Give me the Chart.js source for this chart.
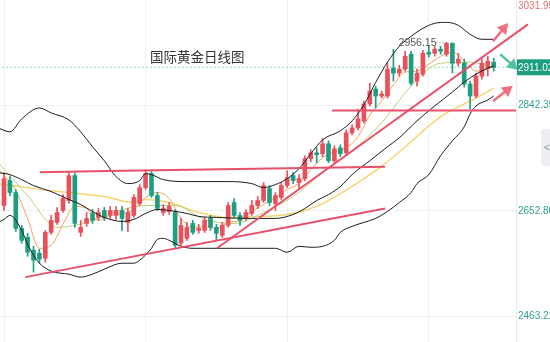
<!DOCTYPE html>
<html>
<head>
<meta charset="utf-8">
<title>国际黄金日线图</title>
<script src="https://cdn.jsdelivr.net/npm/chart.js@4.4.1/dist/chart.umd.min.js"></script>
<style>
    html, body { margin: 0; padding: 0; background: #fff; }
    #wrap { width: 550px; height: 342px; }
</style>
</head>
<body>
<div id="wrap"><canvas id="goldChart" width="550" height="342"></canvas></div>
<script>
// Daily candles (index = trading day on screen)
const openPrices = [
    2662.6, 2707.4, 2685.9, 2621.5, 2605.4, 2582.2, 2576.8, 2567.8, 2614.3, 2632.2,
    2653.7, 2671.6, 2716.3, 2614.3, 2630.4, 2648.3, 2641.2, 2653.7, 2644.8, 2644.8,
    2653.7, 2632.2, 2644.8, 2666.2, 2694.8, 2719.9, 2680.5, 2650.1, 2651.9, 2650.1,
    2594.7, 2603.6, 2630.4, 2617.9, 2617.9, 2639.4, 2623.3, 2609.0, 2626.9, 2668.0,
    2644.8, 2639.4, 2648.3, 2662.6, 2671.6, 2693.0, 2666.2, 2677.0, 2698.4, 2716.3,
    2703.8, 2710.9, 2746.7, 2757.4, 2755.6, 2773.5, 2743.1, 2766.4, 2757.4, 2793.2,
    2802.1, 2814.7, 2845.1, 2871.9, 2859.4, 2859.4, 2909.5, 2900.5, 2907.7, 2934.5,
    2886.2, 2898.7, 2938.1, 2936.3, 2943.4, 2934.5, 2954.2, 2918.4, 2918.4, 2880.8,
    2859.4, 2895.2, 2909.5, 2920.2
];
const closePrices = [
    2710.9, 2685.9, 2621.5, 2600.0, 2578.6, 2564.3, 2566.1, 2614.3, 2635.8, 2650.1,
    2675.2, 2716.3, 2630.4, 2623.3, 2639.4, 2635.8, 2650.1, 2641.2, 2653.7, 2653.7,
    2639.4, 2650.1, 2677.0, 2694.8, 2719.9, 2680.5, 2657.3, 2657.3, 2660.9, 2591.1,
    2626.9, 2623.3, 2614.3, 2621.5, 2635.8, 2623.3, 2612.6, 2626.9, 2662.6, 2644.8,
    2635.8, 2650.1, 2662.6, 2671.6, 2698.4, 2668.0, 2680.5, 2698.4, 2712.7, 2707.4,
    2710.9, 2746.7, 2757.4, 2753.9, 2773.5, 2743.1, 2764.6, 2755.6, 2793.2, 2802.1,
    2818.2, 2845.1, 2868.3, 2859.4, 2863.0, 2907.7, 2900.5, 2907.7, 2930.9, 2882.6,
    2900.5, 2936.3, 2934.5, 2943.4, 2939.9, 2954.2, 2918.4, 2925.6, 2880.8, 2859.4,
    2895.2, 2918.4, 2922.0, 2911.02
];
const highPrices = [
    2721.7, 2714.5, 2691.3, 2626.9, 2612.6, 2589.3, 2583.9, 2617.9, 2644.8, 2659.1,
    2682.3, 2721.7, 2721.7, 2635.8, 2650.1, 2655.5, 2657.3, 2659.1, 2660.9, 2660.9,
    2660.9, 2657.3, 2682.3, 2700.2, 2727.0, 2723.5, 2685.9, 2664.4, 2668.0, 2655.5,
    2639.4, 2632.2, 2635.8, 2628.7, 2641.2, 2644.8, 2628.7, 2632.2, 2668.0, 2675.2,
    2650.1, 2655.5, 2671.6, 2678.7, 2703.8, 2698.4, 2685.9, 2703.8, 2725.2, 2721.7,
    2718.1, 2752.1, 2762.8, 2766.4, 2782.5, 2778.9, 2770.0, 2771.7, 2798.6, 2807.5,
    2836.1, 2850.4, 2882.6, 2877.3, 2868.3, 2918.4, 2943.4, 2914.8, 2939.9, 2939.9,
    2907.7, 2941.7, 2950.6, 2948.8, 2948.8, 2956.15, 2955.0, 2936.3, 2925.6, 2886.2,
    2900.5, 2925.6, 2930.9, 2927.4
];
const lowPrices = [
    2653.7, 2680.5, 2616.1, 2594.7, 2571.4, 2542.8, 2558.9, 2560.7, 2610.8, 2628.7,
    2650.1, 2666.2, 2623.3, 2607.2, 2625.1, 2630.4, 2635.8, 2635.8, 2639.4, 2637.6,
    2617.9, 2616.1, 2641.2, 2662.6, 2691.3, 2677.0, 2653.7, 2644.8, 2646.5, 2587.5,
    2591.1, 2600.0, 2610.8, 2612.6, 2614.3, 2617.9, 2600.0, 2605.4, 2623.3, 2641.2,
    2626.9, 2635.8, 2644.8, 2657.3, 2668.0, 2662.6, 2653.7, 2673.4, 2694.8, 2702.0,
    2693.0, 2707.4, 2741.3, 2739.6, 2750.3, 2739.6, 2737.8, 2750.3, 2753.9, 2789.6,
    2798.6, 2811.1, 2841.5, 2837.9, 2855.8, 2855.8, 2886.2, 2895.2, 2904.1, 2879.1,
    2877.3, 2895.2, 2929.1, 2930.9, 2934.5, 2930.9, 2900.5, 2913.0, 2875.5, 2836.1,
    2855.8, 2889.8, 2895.2, 2904.1
];

// Bollinger bands, read at key days
const upperX = [-1, 1, 3, 6, 8, 11, 13, 15, 17, 19, 21, 23, 24, 25, 27, 31, 38, 42, 44, 46,
    48, 50, 52, 54, 57, 59, 61, 63, 65, 67, 69, 71, 73, 75, 77, 79, 81, 83];
const upperY = [2802.1, 2795.0, 2818.2, 2837.9, 2829.0, 2816.5, 2795.0, 2768.2, 2743.1, 2714.5,
    2702.0, 2707.4, 2719.9, 2718.1, 2709.1, 2705.6, 2705.6, 2702.0, 2694.8, 2700.2,
    2710.9, 2728.8, 2755.6, 2780.7, 2796.8, 2814.7, 2843.3, 2884.0, 2920.2, 2948.8,
    2966.7, 2981.0, 2990.0, 2991.7, 2986.4, 2970.3, 2961.3, 2961.3];
const middleX = [-1, 1, 3, 5, 8, 11, 13, 15, 17, 20, 22, 24, 26, 28, 31, 33, 36, 42, 46, 49,
    51, 53, 55, 57, 59, 62, 65, 67, 70, 73, 76, 78, 80, 82, 83];
const middleY = [2721.7, 2718.1, 2709.1, 2698.4, 2687.7, 2673.4, 2664.4, 2651.9, 2641.2, 2634.0,
    2637.6, 2648.3, 2655.5, 2653.7, 2648.3, 2643.0, 2641.2, 2639.4, 2639.4, 2646.5,
    2657.3, 2671.6, 2682.3, 2696.6, 2718.1, 2743.1, 2768.2, 2784.3, 2814.7, 2841.5,
    2866.5, 2884.4, 2898.7, 2909.5, 2913.0];
const lowerX = [-1, 0, 1, 3, 4, 5, 6, 8, 11, 13, 15, 17, 20, 22, 23, 25, 26, 27, 28, 30,
    32, 42, 46, 48, 50, 52, 54, 56, 57, 59, 61, 63, 65, 67, 69, 70, 72, 74, 76, 78,
    79, 80, 82, 83];
const lowerY = [2632.2, 2637.6, 2644.8, 2617.9, 2592.9, 2573.2, 2558.9, 2544.6, 2539.2, 2533.9,
    2539.2, 2548.2, 2558.9, 2558.9, 2564.3, 2585.7, 2601.8, 2603.6, 2600.0, 2589.3,
    2585.7, 2585.7, 2585.7, 2578.6, 2589.3, 2587.5, 2589.3, 2600.0, 2614.3, 2625.1,
    2632.2, 2639.4, 2651.9, 2668.0, 2685.9, 2702.0, 2718.1, 2752.1, 2778.9, 2803.9,
    2827.2, 2841.5, 2852.2, 2859.4];

// Moving averages
const ma5X = [-1, 2, 4, 6, 8, 10, 12, 14, 16, 18, 20, 22, 24, 26, 28, 30, 32, 34, 36, 38,
    40, 42, 44, 46, 48, 50, 52, 54, 56, 58, 60, 62, 64, 66, 68, 70, 72, 74, 76, 78,
    80, 82, 83];
const ma5Y = [2728.8, 2689.5, 2639.4, 2585.7, 2591.1, 2628.7, 2660.9, 2657.3, 2635.8, 2644.8,
    2648.3, 2655.5, 2677.0, 2685.9, 2675.2, 2639.4, 2623.3, 2625.1, 2621.5, 2632.2,
    2635.8, 2651.9, 2664.4, 2677.0, 2691.3, 2702.0, 2727.0, 2748.5, 2759.2, 2766.4,
    2786.1, 2825.4, 2850.4, 2879.1, 2902.3, 2904.1, 2916.6, 2930.9, 2938.1, 2923.8,
    2904.1, 2907.7, 2913.0];
const ma10X = [-1, 4, 9, 14, 19, 24, 29, 34, 39, 44, 49, 54, 59, 64, 69, 74, 79, 83];
const ma10Y = [2739.6, 2680.5, 2623.3, 2632.2, 2651.9, 2662.6, 2662.6, 2637.6, 2630.4, 2650.1,
    2678.7, 2721.7, 2761.0, 2811.1, 2877.3, 2918.4, 2920.2, 2911.3];
const ma30X = [-1, 5, 11, 17, 22, 24, 28, 33, 38, 44, 48, 51, 54, 57, 60, 63, 66, 69, 72, 75,
    78, 80, 83];
const ma30Y = [2702.0, 2693.0, 2685.9, 2678.7, 2668.0, 2673.4, 2668.0, 2650.1, 2641.2, 2643.0,
    2646.5, 2653.7, 2666.2, 2684.1, 2703.8, 2725.2, 2750.3, 2777.1, 2805.7, 2829.0,
    2845.1, 2855.8, 2873.7];

// Hand drawn trend lines (two end points each)
const resistX = [6.1, 64.6],   resistY = [2722.6, 2732.4];
const supportX = [55.6, 86.8], supportY = [2833.5, 2833.5];
const lowTrendX = [3.6, 64.6], lowTrendY = [2533.9, 2657.3];
const riseTrendX = [36.1, 88.8], riseTrendY = [2585.7, 2988.2];

// Arrows (tail, head)
const arrowUpX = [82.9, 84.7],   arrowUpY = [2957.8, 2981.0];
const arrowDownX = [84.1, 86.2], arrowDownY = [2934.5, 2914.8];
const arrowLowX = [82.9, 85.3],  arrowLowY = [2850.4, 2870.1];

// Axis
const yTicks = [2463.21, 2652.80, 2842.39];
const topTick = 3031.95;
const gridDays = [0, 24, 48, 72];
const lastPrice = 2911.02;
const chartTitle = '国际黄金日线图';

const UP = '#ea4f5c';
const DOWN = '#1e9e80';

function toPoints(xs, ys) {
    return xs.map((x, k) => ({ x: x, y: ys[k] }));
}

function lineSet(xs, ys, color, width, order) {
    return {
        type: 'line',
        data: toPoints(xs, ys),
        borderColor: color,
        borderWidth: width,
        pointRadius: 0,
        cubicInterpolationMode: 'monotone',
        order: order
    };
}

function arrowSet(xs, ys, color, angle) {
    return {
        type: 'line',
        data: toPoints(xs, ys),
        borderColor: color,
        borderWidth: 2.5,
        pointStyle: 'triangle',
        pointRadius: [0, 4.5],
        pointRotation: [0, angle],
        pointBackgroundColor: color,
        pointBorderColor: color,
        clip: false,
        order: 0
    };
}

// scales must not reserve room for labels or offsets
function noPadding(s) {
    s.paddingLeft = 0;
    s.paddingRight = 0;
    s.paddingTop = 0;
    s.paddingBottom = 0;
}

const candleColors = closePrices.map((c, i) => c >= openPrices[i] ? UP : DOWN);

const wickData = lowPrices.map((l, i) => ({ x: i, y: [l, highPrices[i]] }));
const bodyData = openPrices.map((o, i) => ({ x: i, y: [o, closePrices[i]] }));

// Texts drawn on top of the plot
const overlayPlugin = {
    id: 'overlay',
    afterDraw(chart) {
        const ctx = chart.ctx;
        const xs = chart.scales.x;
        const ys = chart.scales.y;
        const area = chart.chartArea;
        ctx.save();

        // title
        ctx.font = "13.5px 'Noto Sans CJK SC'";
        ctx.fillStyle = '#333';
        ctx.textBaseline = 'middle';
        ctx.textAlign = 'left';
        ctx.fillText(chartTitle, area.left + 150, area.top + 57);

        // highest price marker
        let hi = 0;
        highPrices.forEach((h, i) => { if (h > highPrices[hi]) hi = i; });
        const hx = xs.getPixelForValue(hi);
        const hy = ys.getPixelForValue(highPrices[hi]);
        ctx.strokeStyle = '#888';
        ctx.lineWidth = 1;
        ctx.setLineDash([1, 2]);
        ctx.beginPath();
        ctx.moveTo(hx - 10, hy + 0.5);
        ctx.lineTo(hx - 1, hy + 0.5);
        ctx.stroke();
        ctx.setLineDash([]);
        ctx.font = '10.5px Arial';
        ctx.fillStyle = '#555';
        ctx.textAlign = 'right';
        ctx.fillText(highPrices[hi].toFixed(2), hx - 10, hy + 1);

        // current price tag on the axis
        const py = ys.getPixelForValue(lastPrice);
        ctx.fillStyle = DOWN;
        ctx.fillRect(area.right + 1, py - 8, 40, 16);
        ctx.fillStyle = '#fff';
        ctx.textAlign = 'left';
        ctx.font = '10px Arial';
        ctx.fillText(lastPrice.toFixed(2), area.right + 2, py + 0.5);

        // top tick label
        ctx.fillStyle = '#e57373';
        ctx.fillText(topTick.toFixed(2), area.right + 2, area.top + 6);

        // side collapse button
        ctx.fillStyle = '#eceef1';
        ctx.beginPath();
        ctx.roundRect(area.right + 25, 129, 20, 37, 4);
        ctx.fill();
        ctx.fillStyle = '#8a8f96';
        ctx.font = '10px Arial';
        ctx.fillText('<', area.right + 28, 148);

        ctx.restore();
    }
};

new Chart(document.getElementById('goldChart'), {
    type: 'bar',
    data: {
        datasets: [
            {
                type: 'line',
                data: [{ x: -1, y: lastPrice }, { x: 90, y: lastPrice }],
                borderColor: '#8fd3c6',
                borderWidth: 1,
                borderDash: [2, 2],
                pointRadius: 0,
                order: 9
            },
            lineSet(ma30X, ma30Y, '#f5d46e', 1.4, 8),
            lineSet(ma10X, ma10Y, '#b9d27a', 1, 7),
            lineSet(ma5X, ma5Y, '#f3a25e', 1, 6),
            {
                data: wickData,
                backgroundColor: candleColors,
                barThickness: 1,
                grouped: false,
                order: 5
            },
            {
                data: bodyData,
                backgroundColor: candleColors,
                barThickness: 4,
                minBarLength: 1,
                grouped: false,
                order: 4
            },
            lineSet(upperX, upperY, '#1c1c1c', 1, 3),
            lineSet(middleX, middleY, '#1c1c1c', 1, 3),
            lineSet(lowerX, lowerY, '#1c1c1c', 1, 3),
            Object.assign(lineSet(resistX, resistY, '#e9506a', 2, 1), { tension: 0 }),
            Object.assign(lineSet(supportX, supportY, '#e9506a', 2, 1), { tension: 0 }),
            Object.assign(lineSet(lowTrendX, lowTrendY, '#e9506a', 2, 1), { tension: 0 }),
            Object.assign(lineSet(riseTrendX, riseTrendY, '#e9506a', 2, 1), { tension: 0, clip: false }),
            arrowSet(arrowUpX, arrowUpY, '#ef6f80', 40),
            arrowSet(arrowDownX, arrowDownY, '#55c2a2', 132),
            arrowSet(arrowLowX, arrowLowY, '#ef6f80', 52)
        ]
    },
    options: {
        responsive: false,
        animation: false,
        events: [],
        layout: { padding: 0, autoPadding: false },
        plugins: {
            legend: { display: false },
            tooltip: { enabled: false }
        },
        scales: {
            x: {
                type: 'linear',
                offset: false,
                bounds: 'data',
                min: -0.678,
                max: 86.78,
                afterBuildTicks: s => { s.ticks = gridDays.map(v => ({ value: v })); },
                afterFit: s => { s.height = 0; noPadding(s); },
                ticks: { display: false },
                grid: { color: '#eef1f4', drawTicks: false, offset: false },
                border: { display: false }
            },
            y: {
                position: 'right',
                min: 2417.3,
                max: topTick,
                afterBuildTicks: s => { s.ticks = yTicks.map(v => ({ value: v })); },
                afterFit: s => { s.width = 34; noPadding(s); },
                grid: { color: '#eef1f4', drawTicks: false },
                border: { display: true, color: '#e6e9ed' },
                ticks: {
                    color: '#2f9f8f',
                    padding: 2,
                    font: { family: 'Arial', size: 10 },
                    callback: v => Number(v).toFixed(2)
                }
            }
        }
    },
    plugins: [overlayPlugin]
});
</script>
</body>
</html>
